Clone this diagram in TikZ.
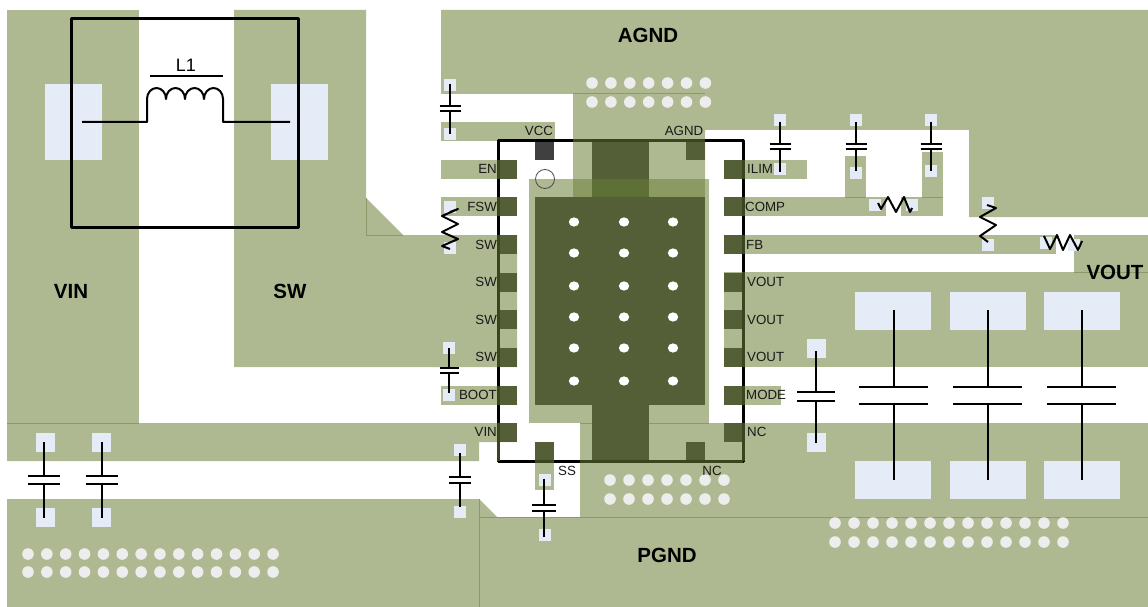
\documentclass[tikz,border=0pt]{standalone}
\usepackage{fontspec}
\setmainfont{Liberation Sans}
\definecolor{copper}{HTML}{AEB891}
\definecolor{darkpad}{HTML}{555F37}
\definecolor{overlap}{HTML}{5F7036}
\definecolor{overlaplight}{HTML}{8A9A62}
\definecolor{padlight}{HTML}{E6ECF7}
\definecolor{edgeline}{HTML}{8B9A68}
\definecolor{icover}{HTML}{3A4520}
\tikzset{
  pinlabel/.style={font=\fontsize{13.3}{13}\selectfont,inner sep=0pt,text=black!90},
  netlabel/.style={font=\fontsize{20.5}{20}\selectfont\bfseries,inner sep=0pt},
  part/.style={line width=2pt,line join=round},
  board/.style={edgeline,line width=.6pt},
  outline/.style={line width=3pt,line join=round},
  via/.style={fill=white!93!black}
}
\begin{document}
\begin{tikzpicture}[x=1pt,y=-1pt]
\useasboundingbox (0,0) rectangle (1148,607);
\fill[copper] (7,10) rectangle (139,423);
\fill[copper] (7,423) -- (516,423) -- (516,442) -- (479,442) -- (479,461) -- (7,461) -- cycle;
\fill[copper] (234,10) -- (366,10) -- (366,198) -- (403,235) -- (517,235) -- (517,367) -- (234,367) -- cycle;
\fill[copper] (7,499) -- (479,499) -- (497,517) -- (580,517) -- (580,423) -- (1148,423) -- (1148,607) -- (7,607) -- cycle;
\fill[copper] (441,10) -- (1148,10) -- (1148,217) -- (969,217) -- (969,130) -- (705,130) -- (705,197) -- (573,197) -- (573,94) -- (441,94) -- cycle;
\fill[copper] (441,122) rectangle (555,141);
\fill[copper] (441,160) rectangle (497,179);
\fill[copper] (441,197) rectangle (497,216);
\fill[copper] (441,386) rectangle (497,405);
\fill[copper] (724,160) rectangle (807,179);
\fill[copper] (724,197) rectangle (886,216);
\fill[copper] (901,197) rectangle (943,216);
\fill[copper] (845,156) rectangle (866,197);
\fill[copper] (922,152) rectangle (943,197);
\fill[copper] (724,235) rectangle (1056,254);
\fill[copper] (1074,235) rectangle (1148,272);
\fill[copper] (724,272) rectangle (1148,367);
\fill[copper] (724,386) rectangle (781,405);
\fill[copper] (535,442) rectangle (554,490);
\fill[copper] (529,179) rectangle (709,423);
\draw[board] (7,423) -- (139,423);
\draw[board] (573,93) -- (705,93);
\draw[board] (479,517) -- (1148,517);
\draw[board] (479,499) -- (479,607);
\draw[board] (580,423) -- (709,423);
\draw[board] (1074,272) -- (1148,272);
\draw[board] (366,198) -- (366,235) -- (403,235);
\draw[board] (845,197) -- (866,197);
\draw[board] (922,197) -- (943,197);
\fill[darkpad] (535,197) rectangle (705,405);
\fill[darkpad] (592,141) rectangle (649,179);
\fill[darkpad] (592,405) rectangle (649,461);
\fill[overlaplight] (573,179) rectangle (705,197);
\fill[overlap] (592,179) rectangle (649,197);
\foreach \y in {160,197,235,273,310,348,386,423} {
  \fill[darkpad] (497,\y) rectangle (517,\y+19);
  \fill[darkpad] (724,\y) rectangle (744,\y+19);
}
\fill[black!75] (535,141) rectangle (554,160);
\fill[darkpad] (686,141) rectangle (705,160);
\fill[darkpad] (535,442) rectangle (554,461);
\fill[darkpad] (686,442) rectangle (705,461);
\foreach \x in {574,624,673} {
  \foreach \y in {222,253,286,317,348,381}
    \fill[white] (\x,\y) ellipse (5.2 and 4.6);
}
\foreach \x in {0,...,6} {
  \fill[via] (592+\x*18.9,83) circle (5.8);
  \fill[via] (592+\x*18.9,102) circle (5.8);
  \fill[via] (610+\x*19,480) circle (5.8);
  \fill[via] (610+\x*19,499) circle (5.8);
}
\foreach \x in {0,...,12} {
  \fill[via] (835+\x*19,523) circle (5.8);
  \fill[via] (835+\x*19,542) circle (5.8);
}
\foreach \x in {0,...,13} {
  \fill[via] (28+\x*18.85,554) circle (5.8);
  \fill[via] (28+\x*18.85,572) circle (5.8);
}
\fill[padlight] (45,84) rectangle (102,160);
\fill[padlight] (271,84) rectangle (328,160);
\fill[padlight] (855,292) rectangle (931,330);
\fill[padlight] (950,292) rectangle (1026,330);
\fill[padlight] (1044,292) rectangle (1120,330);
\fill[padlight] (855,461) rectangle (931,499);
\fill[padlight] (950,461) rectangle (1026,499);
\fill[padlight] (1044,461) rectangle (1120,499);
\fill[padlight] (807,339) rectangle (826,358);
\fill[padlight] (807,433) rectangle (826,452);
\fill[padlight] (36,433) rectangle (55,452);
\fill[padlight] (36,508) rectangle (55,527);
\fill[padlight] (92,433) rectangle (111,452);
\fill[padlight] (92,508) rectangle (111,527);
\fill[padlight] (444,79) rectangle (456,91);
\fill[padlight] (444,128) rectangle (456,140);
\fill[padlight] (444,201) rectangle (456,213);
\fill[padlight] (444,242) rectangle (456,254);
\fill[padlight] (443,342) rectangle (455,354);
\fill[padlight] (443,389) rectangle (455,401);
\fill[padlight] (454,444) rectangle (466,456);
\fill[padlight] (454,506) rectangle (466,518);
\fill[padlight] (539,474) rectangle (551,486);
\fill[padlight] (539,529) rectangle (551,541);
\fill[padlight] (774,114) rectangle (786,126);
\fill[padlight] (774,163) rectangle (786,175);
\fill[padlight] (850,114) rectangle (862,126);
\fill[padlight] (850,167) rectangle (862,179);
\fill[padlight] (925,114) rectangle (937,126);
\fill[padlight] (925,165) rectangle (937,177);
\fill[padlight] (869,199) rectangle (881,211);
\fill[padlight] (906,199) rectangle (918,211);
\fill[padlight] (982,197) rectangle (994,209);
\fill[padlight] (982,239) rectangle (994,251);
\fill[padlight] (1040,237) rectangle (1052,249);
\fill[padlight] (1068,239) rectangle (1080,251);
\draw[outline] (498,141) rectangle (743,461);
\foreach \y/\z in {160/179,197/216,235/367,386/405,423/461} {
  \draw[icover,line width=3pt] (498,\y) -- (498,\z);
}
\foreach \y/\z in {160/179,197/216,235/254,272/367,386/405,423/461} {
  \draw[icover,line width=3pt] (743,\y) -- (743,\z);
}
\draw[icover,line width=3pt] (573,141) -- (705,141);
\draw[icover,line width=3pt] (535,461) -- (554,461);
\draw[icover,line width=3pt] (580,461) -- (743,461);
\draw[black!70,line width=.8pt] (545,179) circle (9.5);
\draw[outline] (71,19) rectangle (298,227);
\draw[part] (82,122) -- (147,122) -- (147,99)
  arc[start angle=180,end angle=360,x radius=9.5,y radius=11]
  arc[start angle=180,end angle=360,x radius=9.5,y radius=11]
  arc[start angle=180,end angle=360,x radius=9.5,y radius=11]
  arc[start angle=180,end angle=360,x radius=9.5,y radius=11]
  -- (223,122) -- (290,122);
\draw[part] (150,76.5) -- (223,76.5);
\draw[part] (450,84) -- (450,106) (439.5,106) -- (460.5,106) (439.5,111) -- (460.5,111) (450,111) -- (450,134);
\draw[part] (449,348) -- (449,368) (439.5,368) -- (458.5,368) (439.5,373) -- (458.5,373) (449,373) -- (449,393);
\draw[part] (460,453) -- (460,477) (449,477) -- (471,477) (449,483) -- (471,483) (460,483) -- (460,507);
\draw[part] (544,479) -- (544,505) (532,505) -- (556,505) (532,511) -- (556,511) (544,511) -- (544,537);
\draw[part] (43.5,442) -- (43.5,476) (27.5,476) -- (59.5,476) (27.5,484) -- (59.5,484) (43.5,484) -- (43.5,518);
\draw[part] (101.5,442) -- (101.5,476) (85.5,476) -- (117.5,476) (85.5,484) -- (117.5,484) (101.5,484) -- (101.5,518);
\draw[part] (780,122) -- (780,144) (769.5,144) -- (790.5,144) (769.5,149) -- (790.5,149) (780,149) -- (780,172);
\draw[part] (856,122) -- (856,144) (845.5,144) -- (866.5,144) (845.5,149) -- (866.5,149) (856,149) -- (856,171);
\draw[part] (931,122) -- (931,144) (920.5,144) -- (941.5,144) (920.5,149) -- (941.5,149) (931,149) -- (931,171);
\draw[part] (816,351) -- (816,392) (797,392) -- (835,392) (797,401) -- (835,401) (816,401) -- (816,443);
\draw[part] (893.5,310) -- (893.5,387) (859,387) -- (928,387) (859,403.5) -- (928,403.5) (893.5,403.5) -- (893.5,480);
\draw[part] (987.5,310) -- (987.5,387) (953,387) -- (1022,387) (953,403.5) -- (1022,403.5) (987.5,403.5) -- (987.5,480);
\draw[part] (1081.5,310) -- (1081.5,387) (1047,387) -- (1116,387) (1047,403.5) -- (1116,403.5) (1081.5,403.5) -- (1081.5,480);
\draw[part] (450,212) -- (458,209) -- (442,216) -- (458,224) -- (442,232) -- (458,239) -- (442,246) -- (450,249);
\draw[part] (878,203) -- (881,209) -- (888,197) -- (896,212) -- (904,197) -- (910,212) -- (912,208);
\draw[part] (987,205) -- (996,208) -- (980,217) -- (996,225) -- (980,236) -- (988,242);
\draw[part] (1044,236) -- (1050,249) -- (1057,235) -- (1063,250) -- (1070,235) -- (1078,250) -- (1082,241);
\node[pinlabel,anchor=east] (en) at (497,169) {EN};
\node[pinlabel,anchor=east] (fsw) at (497,207) {FSW};
\node[pinlabel,anchor=east] (swa) at (497,245) {SW};
\node[pinlabel,anchor=east] (swb) at (497,282) {SW};
\node[pinlabel,anchor=east] (swc) at (497,320) {SW};
\node[pinlabel,anchor=east] (swd) at (497,357) {SW};
\node[pinlabel,anchor=east] (boot) at (497,395) {BOOT};
\node[pinlabel,anchor=east] (vinpin) at (497,432) {VIN};
\node[pinlabel,anchor=west] (ilim) at (747,169) {ILIM};
\node[pinlabel,anchor=west] (comp) at (745,207) {COMP};
\node[pinlabel,anchor=west] (fb) at (746,245) {FB};
\node[pinlabel,anchor=west] (vouta) at (747,282) {VOUT};
\node[pinlabel,anchor=west] (voutb) at (747,320) {VOUT};
\node[pinlabel,anchor=west] (voutc) at (747,357) {VOUT};
\node[pinlabel,anchor=west] (mode) at (746,395) {MODE};
\node[pinlabel,anchor=west] (nca) at (747,432) {NC};
\node[pinlabel] (vcc) at (539,131) {VCC};
\node[pinlabel] (agndpin) at (684,131) {AGND};
\node[pinlabel] (ss) at (567,471) {SS};
\node[pinlabel] (ncb) at (712,471) {NC};
\node[netlabel] (agnd) at (648,35) {AGND};
\node[netlabel] (pgnd) at (667,555) {PGND};
\node[netlabel] (vin) at (71,291) {VIN};
\node[netlabel] (sw) at (290,291) {SW};
\node[netlabel] (vout) at (1115,272) {VOUT};
\node[inner sep=0pt,font=\fontsize{18}{18}\selectfont] (lone) at (186,65) {L1};
\end{tikzpicture}
\end{document}
